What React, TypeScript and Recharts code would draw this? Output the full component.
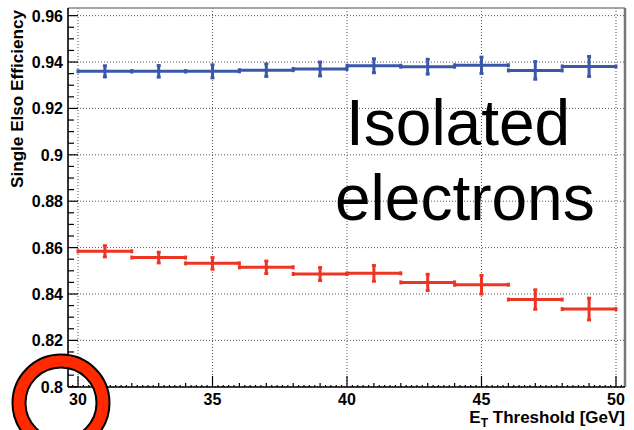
import React from 'react';
import { ComposedChart, Scatter, ErrorBar, XAxis, YAxis, CartesianGrid, ReferenceLine } from 'recharts';

// bins are 2 GeV wide, centred on these values
const binCenters = [31, 33, 35, 37, 39, 41, 43, 45, 47, 49];
const binHalfWidth = 1;

// isolated electrons (blue)
const isolatedEff = [0.936, 0.936, 0.936, 0.9365, 0.937, 0.9384, 0.938, 0.9386, 0.9364, 0.9381];
const isolatedErr = [0.0024, 0.0025, 0.0028, 0.0027, 0.003, 0.003, 0.0032, 0.0035, 0.0038, 0.0043];

// all electrons (red)
const allEff = [0.8584, 0.8557, 0.8532, 0.8515, 0.8486, 0.8489, 0.845, 0.844, 0.8376, 0.8335];
const allErr = [0.0024, 0.0023, 0.0025, 0.0027, 0.0028, 0.0034, 0.0035, 0.004, 0.0042, 0.0047];

const xMajor = [30, 35, 40, 45, 50];
const yMajor = [0.8, 0.82, 0.84, 0.86, 0.88, 0.9, 0.92, 0.94, 0.96];

const X_DOMAIN: [number, number] = [29.628, 50.335];
const Y_DOMAIN: [number, number] = [0.7999, 0.9633];

const BLUE = '#3b58a8';
const RED = '#ee3524';
const FONT = '"Liberation Sans", Arial, Helvetica, sans-serif';

// minor ticks: 1 GeV + 0.2 GeV on x, 0.005 on y
const xTicks: number[] = [];
for (let v = 29.8; v <= X_DOMAIN[1] + 1e-9; v += 0.2) xTicks.push(Math.round(v * 10) / 10);
const yTicks: number[] = [];
for (let v = 0.8; v <= Y_DOMAIN[1] + 1e-9; v += 0.005) yTicks.push(Math.round(v * 1000) / 1000);

const isIn = (arr: number[], v: number) => arr.some((a) => Math.abs(a - v) < 1e-6);

const toRows = (eff: number[], err: number[]) =>
  binCenters.map((x, i) => ({ x, y: eff[i], xerr: binHalfWidth, yerr: err[i] }));

const isolatedRows = toRows(isolatedEff, isolatedErr);
const allRows = toRows(allEff, allErr);

const Y_TICK_MARGIN = 5;
const X_TICK_MARGIN = 2;

const YTick = (props: any) => {
  const { x, y, payload } = props;
  const v = payload.value;
  const major = isIn(yMajor, v);
  const ax = x + Y_TICK_MARGIN;
  return (
    <g>
      <line x1={ax} x2={ax + (major ? 10 : 6)} y1={y} y2={y} stroke="#000" strokeWidth={1.2} />
      {major && (
        <text x={x} y={y} dy={6} textAnchor="end" fontFamily={FONT} fontWeight="bold" fontSize={16} fill="#000">
          {String(v)}
        </text>
      )}
    </g>
  );
};

const XTick = (props: any) => {
  const { x, y, payload } = props;
  const v = payload.value;
  const major = isIn(xMajor, v);
  const minor = Math.abs(v - Math.round(v)) < 1e-6;
  const ay = y - X_TICK_MARGIN;
  const len = major ? 11 : minor ? 4 : 2;
  return (
    <g>
      <line x1={x} x2={x} y1={ay} y2={ay - len} stroke="#000" strokeWidth={1.2} />
      {major && (
        <text x={x} y={ay + 18} textAnchor="middle" fontFamily={FONT} fontWeight="bold" fontSize={16} fill="#000">
          {String(v)}
        </text>
      )}
    </g>
  );
};

const noMarker = () => <g />;

export default function App() {
  return (
    <div style={{ position: 'absolute', left: 0, top: 0, width: 634, height: 430, background: '#fff', overflow: 'hidden' }}>
      <ComposedChart width={634} height={430} margin={{ top: 8, right: 9, left: 0, bottom: 0 }}>
        <CartesianGrid
          horizontal
          vertical
          horizontalValues={yMajor}
          verticalValues={xMajor}
          stroke="#555"
          strokeDasharray="1 2"
        />
        <XAxis
          type="number"
          dataKey="x"
          domain={X_DOMAIN}
          allowDataOverflow
          ticks={xTicks}
          interval={0}
          height={43}
          tickSize={0}
          tickMargin={X_TICK_MARGIN}
          tickLine={false}
          tick={<XTick />}
          axisLine={{ stroke: '#000', strokeWidth: 1.6 }}
          label={{
            content: (p: any) => {
              const vb = p.viewBox;
              return (
                <text x={vb.x + vb.width} y={vb.y + 36} textAnchor="end" fontFamily={FONT} fontWeight="bold" fontSize={17} fill="#000">
                  <tspan>E</tspan>
                  <tspan dy={4} fontSize={12}>T</tspan>
                  <tspan dy={-4}> Threshold [GeV]</tspan>
                </text>
              );
            },
          }}
        />
        <YAxis
          type="number"
          dataKey="y"
          domain={Y_DOMAIN}
          allowDataOverflow
          ticks={yTicks}
          interval={0}
          width={68}
          tickSize={0}
          tickMargin={Y_TICK_MARGIN}
          tickLine={false}
          tick={<YTick />}
          axisLine={{ stroke: '#000', strokeWidth: 1.6 }}
          label={{
            content: (p: any) => {
              const vb = p.viewBox;
              return (
                <text
                  transform={`translate(${vb.x + 23}, ${vb.y + 2}) rotate(-90)`}
                  textAnchor="end"
                  fontFamily={FONT}
                  fontWeight="bold"
                  fontSize={16}
                  textLength={178}
                  lengthAdjust="spacingAndGlyphs"
                  fill="#000"
                >
                  Single Elso Efficiency
                </text>
              );
            },
          }}
        />
        <ReferenceLine y={Y_DOMAIN[1]} stroke="#888" strokeWidth={1.5} />
        <ReferenceLine x={X_DOMAIN[1]} stroke="#777" strokeWidth={2.5} />

        <Scatter data={isolatedRows} dataKey="y" shape={noMarker} isAnimationActive={false}>
          <ErrorBar dataKey="xerr" direction="x" width={2} stroke={BLUE} strokeWidth={3} isAnimationActive={false} />
          <ErrorBar dataKey="yerr" direction="y" width={2} stroke={BLUE} strokeWidth={3} isAnimationActive={false} />
        </Scatter>
        <Scatter data={allRows} dataKey="y" shape={noMarker} isAnimationActive={false}>
          <ErrorBar dataKey="xerr" direction="x" width={2} stroke={RED} strokeWidth={3} isAnimationActive={false} />
          <ErrorBar dataKey="yerr" direction="y" width={2} stroke={RED} strokeWidth={3} isAnimationActive={false} />
        </Scatter>
      </ComposedChart>

      <svg width={634} height={430} style={{ position: 'absolute', left: 0, top: 0, pointerEvents: 'none' }}>
        <text x={346} y={145} fontFamily={FONT} fontSize={64} fill="#000">Isolated</text>
        <text x={335} y={220} fontFamily={FONT} fontSize={64} fill="#000">electrons</text>
        <circle cx={61} cy={403} r={42} fill="none" stroke="#000" strokeWidth={15} />
        <circle cx={61} cy={403} r={42} fill="none" stroke="#ff2a00" strokeWidth={11} />
      </svg>
    </div>
  );
}
